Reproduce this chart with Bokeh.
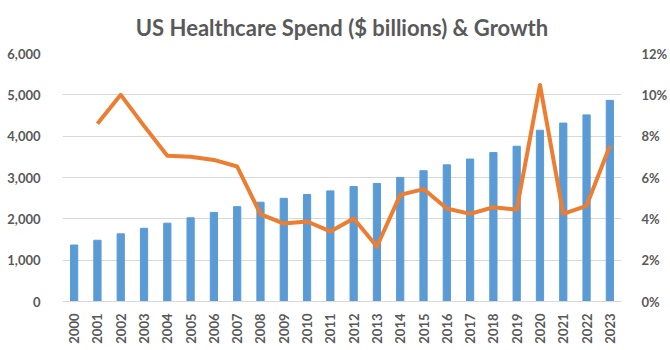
import numpy as np
from bokeh.plotting import figure
from bokeh.models import (FactorRange, Range1d, LinearAxis, FixedTicker,
                          NumeralTickFormatter, ColumnDataSource)
from bokeh.embed import file_html
from bokeh.resources import INLINE

years = [str(y) for y in range(2000, 2024)]
spend = [1366, 1482, 1637, 1772, 1895, 2025, 2156, 2295, 2403, 2496, 2589, 2676,
         2783, 2856, 3002, 3164, 3306, 3446, 3604, 3757, 4144, 4317, 4515, 4867]
growth = [None, 0.086, 0.100, 0.085, 0.0705, 0.070, 0.0685, 0.0653, 0.0423, 0.0377,
          0.0387, 0.0339, 0.0402, 0.0266, 0.0516, 0.0544, 0.045, 0.0424, 0.0456,
          0.0444, 0.1048, 0.0424, 0.0463, 0.0753]
left_ticks = [0, 1000, 2000, 3000, 4000, 5000, 6000]
right_ticks = [0, 0.02, 0.04, 0.06, 0.08, 0.10, 0.12]

GRAY = "#595959"
FONT = "Lato"

p = figure(width=670, height=350, x_range=FactorRange(*years),
           y_range=Range1d(0, 6000), output_backend="svg", toolbar_location=None,
           min_border_left=62, min_border_right=45, min_border_top=53,
           min_border_bottom=49)
p.extra_y_ranges = {"pct": Range1d(0, 0.12)}

p.title.text = "US Healthcare Spend ($ billions) & Growth"
p.title.align = "center"
p.title.vertical_align = "top"
p.title.text_font = FONT
p.title.text_font_size = "22px"
p.title.text_font_style = "bold"
p.title.text_color = GRAY
p.title.standoff = 22

p.outline_line_color = None
p.background_fill_color = "white"
p.border_fill_color = "white"

src = ColumnDataSource(dict(x=years, spend=spend))
p.vbar(x="x", top="spend", width=0.31, source=src, color="#5B9BD5")

gx = [y for y, g in zip(years, growth) if g is not None]
gy = [g for g in growth if g is not None]
p.line(gx, gy, y_range_name="pct", line_color="#ED7D31", line_width=4,
       line_join="round")

p.yaxis.ticker = FixedTicker(ticks=left_ticks)
p.yaxis.formatter = NumeralTickFormatter(format="0,0")
right = LinearAxis(y_range_name="pct", ticker=FixedTicker(ticks=right_ticks),
                   formatter=NumeralTickFormatter(format="0%"))
p.add_layout(right, "right")

for ax in p.yaxis:
    ax.axis_line_color = None
    ax.major_tick_line_color = None
    ax.minor_tick_line_color = None
    ax.major_label_text_font = FONT
    ax.major_label_text_font_size = "13px"
    ax.major_label_text_font_style = "bold"
    ax.major_label_text_color = GRAY
    ax.major_label_standoff = 14

p.yaxis[0].major_label_standoff = 16

p.xaxis.axis_line_color = "#D9D9D9"
p.xaxis.major_tick_line_color = None
p.xaxis.minor_tick_line_color = None
p.xaxis.major_label_orientation = np.pi / 2
p.xaxis.major_label_text_font = FONT
p.xaxis.major_label_text_font_size = "13px"
p.xaxis.major_label_text_font_style = "bold"
p.xaxis.major_label_text_color = GRAY
p.xaxis.major_label_standoff = 6

p.xgrid.grid_line_color = None
p.ygrid.grid_line_color = "#D9D9D9"
p.ygrid.ticker = FixedTicker(ticks=left_ticks)

open("out.html", "w").write(file_html(p, INLINE))
